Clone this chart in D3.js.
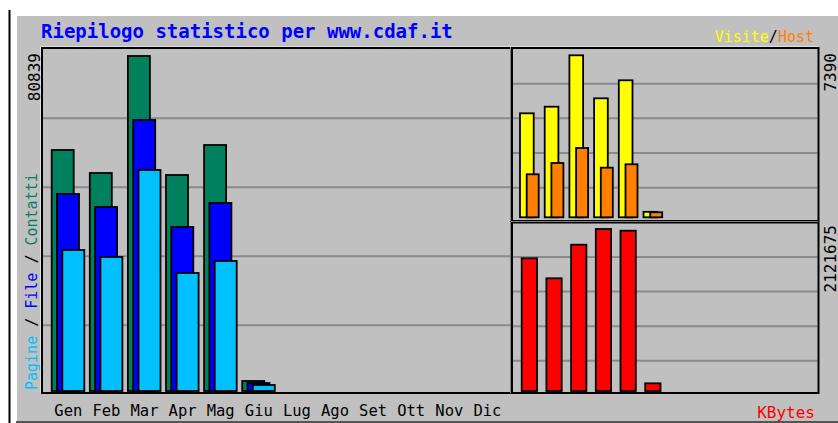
<!DOCTYPE html>
<html>
<head>
<meta charset="utf-8">
<script src="https://cdn.jsdelivr.net/npm/d3@7"></script>
<style>
  body { margin: 0; background: #ffffff; }
  text { font-family: "DejaVu Sans Mono", monospace; }
</style>
</head>
<body>
<div id="chart"></div>
<script>
// dati (Webalizer, riepilogo mensile)
const months = ["Gen", "Feb", "Mar", "Apr", "Mag", "Giu", "Lug", "Ago", "Set", "Ott", "Nov", "Dic"];
const hits   = [58156, 52606, 80839, 52123, 59362, 2413, 0, 0, 0, 0, 0, 0];   // Contatti
const files  = [47538, 44401, 65395, 39575, 45367, 1930, 0, 0, 0, 0, 0, 0];   // File
const pages  = [34025, 32336, 53330, 28475, 31370, 1448, 0, 0, 0, 0, 0, 0];   // Pagine
const visits = [4744, 5045, 7390, 5428, 6250, 250, 0, 0, 0, 0, 0, 0];         // Visite
const sites  = [1962, 2477, 3161, 2263, 2418, 230, 0, 0, 0, 0, 0, 0];         // Host
const kbytes = [1737900, 1476000, 1916000, 2121675, 2099400, 100800, 0, 0, 0, 0, 0, 0];

const maxHits = 80839, maxVisits = 7390, maxKbytes = 2121675;

const colHits = "#00805c", colFiles = "#0000ff", colPages = "#00c0ff";
const colVisits = "#ffff00", colSites = "#ff8000", colKbytes = "#ff0000";

const width = 838, height = 423;

const svg = d3.select("#chart")
    .append("svg")
    .attr("width", width)
    .attr("height", height);

// sfondo grigio con bordo
svg.append("line").attr("x1", 9.5).attr("x2", 9.5).attr("y1", 10).attr("y2", height)
    .style("stroke", "#000").style("stroke-width", 2);
svg.append("rect").attr("x", 16).attr("y", 15).attr("width", width - 16).attr("height", 407)
    .style("fill", "#c0c0c0");
svg.append("line").attr("x1", 16).attr("x2", width).attr("y1", 15.5).attr("y2", 15.5)
    .style("stroke", "#fff");
svg.append("line").attr("x1", 16.5).attr("x2", 16.5).attr("y1", 15).attr("y2", 422)
    .style("stroke", "#fff");
svg.append("line").attr("x1", 16).attr("x2", width).attr("y1", 422).attr("y2", 422)
    .style("stroke", "#555").style("stroke-width", 2);

// pannelli
const panels = [
    {x0: 42, x1: 511, y0: 48, y1: 393, g0: 49.3, g1: 394.3},
    {x0: 512, x1: 818.5, y0: 48, y1: 221, g0: 49, g1: 222.4},
    {x0: 512, x1: 818.5, y0: 222.5, y1: 393, g0: 222.4, g1: 395.3}
];

panels.forEach(p => {
    const gy = d3.scaleLinear().domain([0, 5]).range([p.g1, p.g0]);
    svg.append("g")
        .selectAll("line")
        .data([1, 2, 3, 4])
        .enter().append("line")
        .attr("x1", p.x0 + 1).attr("x2", p.x1 - 1)
        .attr("y1", d => gy(d)).attr("y2", d => gy(d))
        .style("stroke", "#8a8a8a")
        .style("stroke-width", 2);
});

// scale
const xMain = d3.scaleBand().domain(months).range([48, 48 + 12 * 38.1]);
const xRight = d3.scaleBand().domain(months).range([516, 516 + 12 * 24.7]);

const yMain = d3.scaleLinear().domain([0, maxHits]).range([391, 56]);
const yVis = d3.scaleLinear().domain([0, maxVisits]).range([217.3, 55.3]);
const yKb = d3.scaleLinear().domain([0, maxKbytes]).range([391, 229]);

function bars(values, xs, off, w, ys, color) {
    const data = months.map((m, i) => ({m: m, v: values[i]})).filter(d => d.v > 0);
    svg.append("g")
        .selectAll("rect")
        .data(data)
        .enter().append("rect")
        .attr("x", d => xs(d.m) + off)
        .attr("y", d => ys(d.v))
        .attr("width", w)
        .attr("height", d => ys(0) - ys(d.v))
        .style("fill", color)
        .style("stroke", "#000")
        .style("stroke-width", 1.8);
}

bars(hits, xMain, 3.7, 22, yMain, colHits);
bars(files, xMain, 9, 22, yMain, colFiles);
bars(pages, xMain, 14.3, 22, yMain, colPages);

bars(visits, xRight, 4, 13.7, yVis, colVisits);
bars(sites, xRight, 10.7, 12, yVis, colSites);

bars(kbytes, xRight, 5.7, 15.3, yKb, colKbytes);

// cornici dei pannelli
panels.forEach(p => {
    svg.append("path")
        .attr("d", `M${p.x0 - 1},${p.y1}V${p.y0 - 1}H${p.x1}`)
        .style("fill", "none").style("stroke", "#fff").style("stroke-width", 1);
    svg.append("rect")
        .attr("x", p.x0).attr("y", p.y0)
        .attr("width", p.x1 - p.x0).attr("height", p.y1 - p.y0)
        .style("fill", "none").style("stroke", "#000").style("stroke-width", 2);
});

// testi
svg.append("text")
    .attr("x", 41).attr("y", 38)
    .style("font-size", "19px").style("font-weight", "bold")
    .style("fill", "#0000ff")
    .text("Riepilogo statistico per www.cdaf.it");

const vh = svg.append("text")
    .attr("x", 814).attr("y", 42)
    .attr("text-anchor", "end")
    .style("font-size", "15px");
vh.append("tspan").style("fill", colVisits).text("Visite");
vh.append("tspan").style("fill", "#000").text("/");
vh.append("tspan").style("fill", colSites).text("Host");

const leg = svg.append("text")
    .attr("transform", "translate(36.5,390) rotate(-90)")
    .style("font-size", "15px");
leg.append("tspan").style("fill", colPages).text("Pagine");
leg.append("tspan").style("fill", "#000").text(" / ");
leg.append("tspan").style("fill", colFiles).text("File");
leg.append("tspan").style("fill", "#000").text(" / ");
leg.append("tspan").style("fill", colHits).text("Contatti");

const maxLabels = [
    {t: maxHits, x: 39.5, y: 53},
    {t: maxVisits, x: 835.5, y: 53},
    {t: maxKbytes, x: 835.5, y: 225}
];
svg.append("g")
    .selectAll("text")
    .data(maxLabels)
    .enter().append("text")
    .attr("transform", d => `translate(${d.x},${d.y}) rotate(-90)`)
    .attr("text-anchor", "end")
    .style("font-size", "16px")
    .style("fill", "#000")
    .text(d => d.t);

svg.append("g")
    .selectAll("text")
    .data(months)
    .enter().append("text")
    .attr("x", d => xMain(d) + 20.3)
    .attr("y", 416)
    .attr("text-anchor", "middle")
    .style("font-size", "15.5px")
    .style("fill", "#000")
    .text(d => d);

svg.append("text")
    .attr("x", 815).attr("y", 418)
    .attr("text-anchor", "end")
    .style("font-size", "16px")
    .style("fill", colKbytes)
    .text("KBytes");
</script>
</body>
</html>
